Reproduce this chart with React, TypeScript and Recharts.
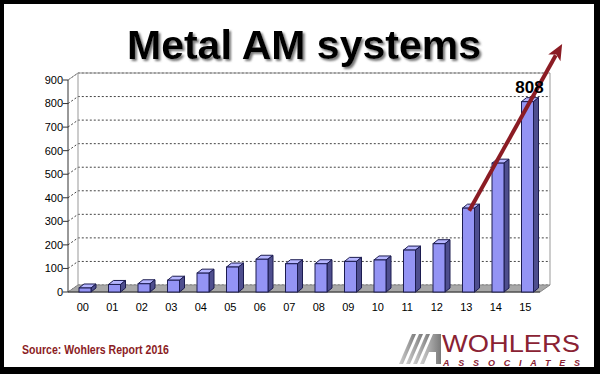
import React from 'react';
import { BarChart, Bar, XAxis, YAxis, CartesianGrid, ReferenceLine, ReferenceArea, LabelList } from 'recharts';

const years = ['00', '01', '02', '03', '04', '05', '06', '07', '08', '09', '10', '11', '12', '13', '14', '15'];
const systems = [17, 32, 35, 50, 80, 106, 139, 120, 120, 130, 136, 178, 205, 356, 547, 808];
const peakLabels = ['', '', '', '', '', '', '', '', '', '', '', '', '', '', '', '808'];
const yTicks = [0, 100, 200, 300, 400, 500, 600, 700, 800, 900];
const boundaryTicks = [-0.5, 0.5, 1.5, 2.5, 3.5, 4.5, 5.5, 6.5, 7.5, 8.5, 9.5, 10.5, 11.5, 12.5, 13.5, 14.5, 15.5];
const trendStart = { x: 13.1, y: 345 };
const trendEnd = { x: 16.25, y: 1053 };

const data = years.map((year, i) => ({ year, v: systems[i], label: peakLabels[i] }));

const FONT = "Arial, 'Liberation Sans', sans-serif";
const DX = 10;
const DY = 7;
const BAR_SHIFT = 2;
const MAROON = '#8b1c24';

const Bar3D = (props: any) => {
  const { x, y, width, height } = props;
  if (height == null || height <= 0) return null;
  const X = x + BAR_SHIFT;
  const d = 5;
  const e = 4;
  const st = '#1c1c50';
  return (
    <g>
      <polygon points={`${X},${y} ${X + width},${y} ${X + width + d},${y - e} ${X + d},${y - e}`} fill="#b6b6ff" stroke={st} strokeWidth={1} />
      <polygon points={`${X + width},${y} ${X + width + d},${y - e} ${X + width + d},${y + height - e} ${X + width},${y + height}`} fill="#4e4e8e" stroke={st} strokeWidth={1} />
      <rect x={X} y={y} width={width} height={height} fill="#9494f4" stroke={st} strokeWidth={1} />
    </g>
  );
};

const gridLine = (props: any) => {
  const { x1, y1, x2, index } = props;
  return (
    <path
      key={`g${index}`}
      d={`M${x1},${y1} L${x1 + DX},${y1 - DY} L${x2 + DX},${y1 - DY}`}
      stroke="#444"
      strokeDasharray="2 2"
      fill="none"
    />
  );
};

const Wall = (props: any) => {
  const { x, y, width, height } = props;
  const b = y + height;
  return (
    <g>
      <path d={`M${x},${y} L${x + DX},${y - DY} L${x + width + DX},${y - DY} L${x + width + DX},${b - DY}`} stroke="#999" fill="none" />
      <line x1={x + DX} y1={y - DY} x2={x + DX} y2={b - DY} stroke="#999" />
      <polygon points={`${x},${b} ${x + width},${b} ${x + width + DX},${b - DY} ${x + DX},${b - DY}`} fill="#a8a8a8" stroke="#888" />
      <line x1={x} y1={b} x2={x + width} y2={b} stroke="#333" />
    </g>
  );
};

const Arrow = (props: any) => {
  const { x1, y1, x2, y2 } = props;
  if ([x1, y1, x2, y2].some((v) => v == null || isNaN(v))) return null;
  const ang = Math.atan2(y2 - y1, x2 - x1);
  const L = 16;
  const W = 7;
  const bx = x2 - L * Math.cos(ang);
  const by = y2 - L * Math.sin(ang);
  const px = -Math.sin(ang) * W;
  const py = Math.cos(ang) * W;
  return (
    <g>
      <line x1={x1} y1={y1} x2={bx + 3 * Math.cos(ang)} y2={by + 3 * Math.sin(ang)} stroke={MAROON} strokeWidth={4} />
      <polygon points={`${x2},${y2} ${bx + px},${by + py} ${bx + 4 * Math.cos(ang)},${by + 4 * Math.sin(ang)} ${bx - px},${by - py}`} fill={MAROON} />
    </g>
  );
};

const PeakLabel = (props: any) => {
  const { x, y, width, value } = props;
  if (!value) return null;
  return (
    <text x={x + width / 2 + BAR_SHIFT + 2} y={y - 9} textAnchor="middle" fontFamily={FONT} fontWeight="bold" fontSize={17} fill="#000">
      {value}
    </text>
  );
};

export default function App() {
  return (
    <div style={{ position: 'absolute', left: 0, top: 0, width: 600, height: 374, background: '#fff', overflow: 'hidden' }}>
      <BarChart width={600} height={374} data={data} margin={{ top: 80, right: 60, bottom: 52, left: 0 }}>
        <XAxis
          xAxisId="n"
          type="number"
          dataKey="x"
          domain={[-0.5, 15.5]}
          ticks={boundaryTicks}
          height={0}
          axisLine={false}
          tickLine={{ stroke: '#333' }}
          tickSize={5}
          tickFormatter={() => ''}
          allowDataOverflow
        />
        <XAxis
          xAxisId="c"
          dataKey="year"
          height={30}
          axisLine={false}
          tickLine={false}
          tickMargin={5}
          tick={{ fontSize: 11, fill: '#000', fontFamily: FONT }}
          interval={0}
        />
        <YAxis
          width={68}
          domain={[0, 900]}
          ticks={yTicks}
          interval={0}
          axisLine={{ stroke: '#333' }}
          tickLine={{ stroke: '#333' }}
          tickSize={5}
          tickMargin={0}
          tick={{ fontSize: 11, fill: '#000', fontFamily: FONT }}
        />
        <CartesianGrid xAxisId="c" vertical={false} horizontal={gridLine} />
        <ReferenceArea xAxisId="c" y1={0} y2={900} ifOverflow="visible" shape={Wall} />
        <Bar xAxisId="c" dataKey="v" barSize={12} shape={Bar3D} isAnimationActive={false}>
          <LabelList dataKey="label" content={PeakLabel} />
        </Bar>
        <ReferenceLine
          xAxisId="n"
          segment={[trendStart, trendEnd]}
          ifOverflow="visible"
          shape={Arrow}
        />
      </BarChart>
      <svg width={600} height={374} style={{ position: 'absolute', left: 0, top: 0, pointerEvents: 'none' }}>
        <defs>
          <filter id="ts" x="-10%" y="-30%" width="120%" height="160%">
            <feDropShadow dx="2" dy="2" stdDeviation="1.2" floodColor="#666" floodOpacity="0.9" />
          </filter>
          <linearGradient id="stripe" x1="0" y1="0" x2="1" y2="0">
            <stop offset="0" stopColor="#d0d0d0" />
            <stop offset="1" stopColor="#7a7a7a" />
          </linearGradient>
        </defs>
        <text x={304} y={59} textAnchor="middle" fontFamily={FONT} fontWeight="bold" fontSize={41} fill="#000" filter="url(#ts)">
          Metal AM systems
        </text>
        <text x={22} y={354} fontFamily={FONT} fontWeight="bold" fontSize={12.5} fill={MAROON} textLength={147} lengthAdjust="spacingAndGlyphs">
          Source: Wohlers Report 2016
        </text>
        <g fill="url(#stripe)">
          <polygon points="399,364 412,334 416,334 403,364" />
          <polygon points="406,364 419,334 423,334 410,364" />
          <polygon points="413,364 426,334 430,334 417,364" />
          <polygon points="420,364 433,334 441,334 441,364 436,364 436,352 429,352 424,364" />
        </g>
        <text x={442} y={352} fontFamily={FONT} fontSize={24} fill="#8a2233" textLength={138} lengthAdjust="spacingAndGlyphs">
          WOHLERS
        </text>
        <text x={443} y={366} fontFamily={FONT} fontWeight="bold" fontStyle="italic" fontSize={9} fill="#8a2233" textLength={137} lengthAdjust="spacing">
          ASSOCIATES
        </text>
      </svg>
      <div
        style={{
          position: 'absolute',
          left: 0,
          top: 0,
          width: 600,
          height: 374,
          boxSizing: 'border-box',
          borderStyle: 'solid',
          borderColor: '#000',
          borderWidth: '4px 6px 7px 4px',
          pointerEvents: 'none',
        }}
      />
    </div>
  );
}
